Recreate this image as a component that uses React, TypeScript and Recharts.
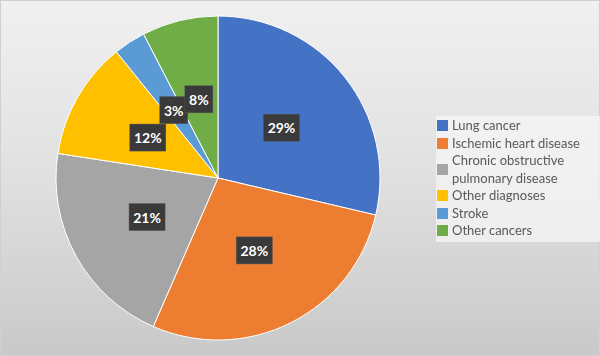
import { Cell, Legend, Pie, PieChart } from "recharts";

const categories = [
  "Lung cancer",
  "Ischemic heart disease",
  "Chronic obstructive pulmonary disease",
  "Other diagnoses",
  "Stroke",
  "Other cancers",
];
const shares = [28.7, 27.9, 20.9, 11.8, 3.2, 7.6];
const colors = ["#4472C4", "#ED7D31", "#A5A5A5", "#FFC000", "#5B9BD5", "#70AD47"];

// legend text wraps the long COPD name onto two lines, like the original
const legendLines: string[][] = [
  ["Lung cancer"],
  ["Ischemic heart disease"],
  ["Chronic obstructive", "pulmonary disease"],
  ["Other diagnoses"],
  ["Stroke"],
  ["Other cancers"],
];

const data = categories.map((name, i) => ({ name, value: shares[i] }));

const RADIAN = Math.PI / 180;
const FONT = "Lato, 'Open Sans', sans-serif";

function renderLabel(props: any) {
  const { cx, cy, midAngle, outerRadius, percent } = props;
  const r = outerRadius * 0.5;
  const x = cx + r * Math.cos(-midAngle * RADIAN);
  const y = cy + r * Math.sin(-midAngle * RADIAN);
  const text = `${Math.round(percent * 100)}%`;
  const w = text.length > 2 ? 36 : 28;
  const h = 27;
  return (
    <g>
      <rect x={x - w / 2} y={y - h / 2} width={w} height={h} fill="#3a3a3a" stroke="#555" strokeWidth={0.5} />
      <text
        x={x}
        y={y}
        textAnchor="middle"
        dominantBaseline="central"
        fill="#fff"
        fontWeight={700}
        fontSize={14}
        fontFamily={FONT}
      >
        {text}
      </text>
    </g>
  );
}

function LegendBox() {
  return (
    <div
      style={{
        background: "rgba(246,246,246,0.75)",
        padding: "1px 0 2px 1px",
        fontFamily: FONT,
        fontSize: 13,
        color: "#595959",
        lineHeight: "17.5px",
      }}
    >
      {legendLines.map((lines, i) => (
        <div key={i} style={{ display: "flex", alignItems: "center" }}>
          <span
            style={{
              width: 11,
              height: 11,
              background: colors[i],
              marginRight: 4,
              flexShrink: 0,
            }}
          />
          <div>
            {lines.map((l) => (
              <div key={l} style={{ whiteSpace: "nowrap" }}>
                {l}
              </div>
            ))}
          </div>
        </div>
      ))}
    </div>
  );
}

export default function App() {
  return (
    <div
      style={{
        position: "fixed",
        left: 0,
        top: 0,
        width: 600,
        height: 356,
        boxSizing: "border-box",
        border: "1px solid #d0d0d0",
        background: "linear-gradient(180deg, #f0f0f0 0%, #e2e2e2 45%, #c9c9c9 100%)",
      }}
    >
      <PieChart width={598} height={354} margin={{ top: 0, right: 0, bottom: 0, left: 0 }}>
        <Pie
          data={data}
          dataKey="value"
          nameKey="name"
          cx={217}
          cy={177}
          outerRadius={162}
          startAngle={90}
          endAngle={-270}
          stroke="#ffffff"
          strokeWidth={1}
          label={renderLabel}
          labelLine={false}
          isAnimationActive={false}
        >
          {data.map((d, i) => (
            <Cell key={d.name} fill={colors[i]} />
          ))}
        </Pie>
        <Legend
          content={() => <LegendBox />}
          layout="vertical"
          wrapperStyle={{ left: 435, top: 115, width: 164 }}
        />
      </PieChart>
    </div>
  );
}
